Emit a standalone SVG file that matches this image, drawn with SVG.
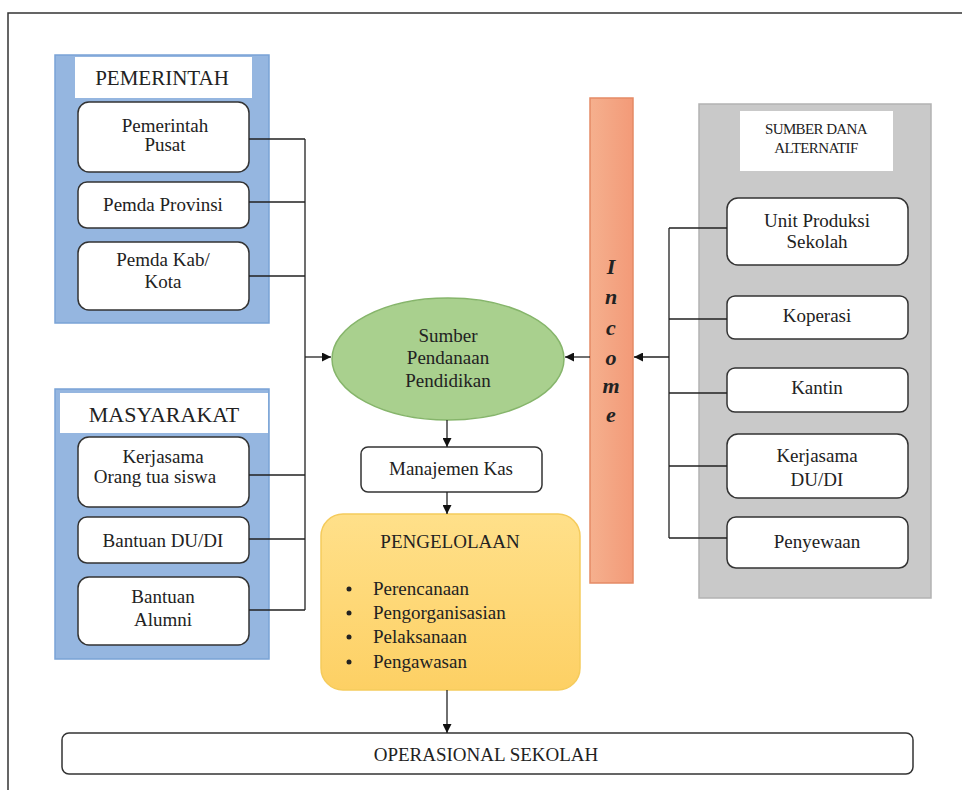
<svg xmlns="http://www.w3.org/2000/svg" width="962" height="790" viewBox="0 0 962 790" font-family="'Liberation Serif', 'DejaVu Serif', serif">
<defs>
<style>
text{font-family:"Liberation Serif","DejaVu Serif",serif;fill:#222;text-anchor:middle}
.t{font-size:19px}
.box{fill:#fff;stroke:#333;stroke-width:1.5}
.ln{fill:none;stroke:#222;stroke-width:1.3}
.ttl{fill:#fff;stroke:none}
</style>
<marker id="ah" viewBox="0 0 10 10" refX="10" refY="5" markerWidth="9" markerHeight="9" markerUnits="userSpaceOnUse" orient="auto">
<path d="M0,0 L10,5 L0,10 z" fill="#111"/>
</marker>
<linearGradient id="gy" x1="0" y1="0" x2="0" y2="1">
<stop offset="0" stop-color="#ffe08a"/><stop offset="1" stop-color="#fdd064"/>
</linearGradient>
<linearGradient id="go" x1="0" y1="0" x2="1" y2="0">
<stop offset="0" stop-color="#f5b08e"/><stop offset="1" stop-color="#f39a78"/>
</linearGradient>
</defs>
<rect width="962" height="790" fill="#fff"/>
<path d="M8,790 V13 H962" fill="none" stroke="#333" stroke-width="1.5"/>

<g id="pemerintah">
<rect x="55" y="55" width="214" height="268" fill="#95b6e0" stroke="#7aa3d6" stroke-width="1.5"/>
<rect class="ttl" x="75" y="57" width="177" height="41"/>
<text x="162" y="85" style="font-size:21px">PEMERINTAH</text>
</g>
<g id="pemerintah-pusat">
<rect class="box" x="78" y="102" width="171" height="70" rx="11"/>
<text class="t" x="165" y="132">Pemerintah</text><text class="t" x="165" y="151">Pusat</text>
</g>
<g id="pemda-provinsi">
<rect class="box" x="78" y="182" width="171" height="46" rx="9"/>
<text class="t" x="163" y="211">Pemda Provinsi</text>
</g>
<g id="pemda-kab">
<rect class="box" x="78" y="242" width="171" height="68" rx="11"/>
<text class="t" x="163" y="266">Pemda Kab/</text><text class="t" x="163" y="288">Kota</text>
</g>

<g id="masyarakat">
<rect x="55" y="389" width="214" height="270" fill="#95b6e0" stroke="#7aa3d6" stroke-width="1.5"/>
<rect class="ttl" x="60" y="393" width="208" height="40"/>
<text x="164" y="422" style="font-size:22px">MASYARAKAT</text>
</g>
<g id="kerjasama-ortu">
<rect class="box" x="78" y="437" width="171" height="70" rx="11"/>
<text class="t" x="163" y="463">Kerjasama</text><text class="t" x="155" y="483">Orang tua siswa</text>
</g>
<g id="bantuan-dudi">
<rect class="box" x="78" y="517" width="171" height="46" rx="9"/>
<text class="t" x="163" y="547">Bantuan DU/DI</text>
</g>
<g id="bantuan-alumni">
<rect class="box" x="78" y="577" width="171" height="68" rx="11"/>
<text class="t" x="163" y="603">Bantuan</text><text class="t" x="163" y="626">Alumni</text>
</g>

<g id="sumber-pendanaan">
<ellipse cx="448" cy="359" rx="116" ry="61" fill="#a9d08e" stroke="#86b56b" stroke-width="1.5"/>
<text class="t" x="448" y="342">Sumber</text>
<text class="t" x="448" y="364">Pendanaan</text>
<text class="t" x="448" y="387">Pendidikan</text>
</g>
<g id="manajemen-kas">
<rect class="box" x="361" y="447" width="181" height="45" rx="7"/>
<text class="t" x="451" y="475">Manajemen Kas</text>
</g>
<g id="pengelolaan">
<rect x="321" y="514" width="259" height="176" rx="22" fill="url(#gy)" stroke="#f5cb5c" stroke-width="1.5"/>
<text x="450" y="548" style="font-size:19px">PENGELOLAAN</text>
<g style="font-size:19px">
<circle cx="349" cy="589" r="2.5" fill="#222"/><text x="373" y="595" style="text-anchor:start">Perencanaan</text>
<circle cx="349" cy="613" r="2.5" fill="#222"/><text x="373" y="619" style="text-anchor:start">Pengorganisasian</text>
<circle cx="349" cy="637" r="2.5" fill="#222"/><text x="373" y="643" style="text-anchor:start">Pelaksanaan</text>
<circle cx="349" cy="662" r="2.5" fill="#222"/><text x="373" y="668" style="text-anchor:start">Pengawasan</text>
</g>
</g>
<g id="operasional">
<rect class="box" x="62" y="733" width="851" height="41" rx="7"/>
<text class="t" x="486" y="761">OPERASIONAL SEKOLAH</text>
</g>

<g id="income">
<rect x="590" y="98" width="43" height="485" fill="url(#go)" stroke="#e58a66" stroke-width="1.5"/>
<g style="font-size:22px;font-weight:bold;font-style:italic">
<text x="611" y="274">I</text>
<text x="611" y="304">n</text>
<text x="611" y="335">c</text>
<text x="611" y="365">o</text>
<text x="611" y="393">m</text>
<text x="611" y="422">e</text>
</g>
</g>

<g id="sumber-dana-alternatif">
<rect x="699" y="104" width="232" height="494" fill="#c9c9c9" stroke="#b2b2b2" stroke-width="1.5"/>
<rect class="ttl" x="740" y="111" width="153" height="60"/>
<text x="816" y="134" style="font-size:15px;letter-spacing:-0.6px">SUMBER DANA</text>
<text x="816" y="153" style="font-size:15px;letter-spacing:-0.6px">ALTERNATIF</text>
</g>
<g id="unit-produksi">
<rect class="box" x="727" y="198" width="181" height="67" rx="11"/>
<text class="t" x="817" y="227">Unit Produksi</text><text class="t" x="817" y="248">Sekolah</text>
</g>
<g id="koperasi">
<rect class="box" x="727" y="296" width="181" height="43" rx="8"/>
<text class="t" x="817" y="322">Koperasi</text>
</g>
<g id="kantin">
<rect class="box" x="727" y="368" width="181" height="44" rx="8"/>
<text class="t" x="817" y="394">Kantin</text>
</g>
<g id="kerjasama-dudi">
<rect class="box" x="727" y="434" width="181" height="64" rx="11"/>
<text class="t" x="817" y="462">Kerjasama</text><text class="t" x="817" y="486">DU/DI</text>
</g>
<g id="penyewaan">
<rect class="box" x="727" y="517" width="181" height="51" rx="9"/>
<text class="t" x="817" y="548">Penyewaan</text>
</g>

<g id="connectors">
<path class="ln" d="M249,139 H305 M249,202 H305 M249,276 H305 M249,475 H305 M249,539 H305 M249,610 H305 M305,139 V610"/>
<path class="ln" d="M305,357 H331" marker-end="url(#ah)"/>
<path class="ln" d="M727,228 H669 M727,319 H669 M727,393 H669 M727,466 H669 M727,538 H669 M669,228 V538"/>
<path class="ln" d="M669,357 H634" marker-end="url(#ah)"/>
<path class="ln" d="M590,357 H565" marker-end="url(#ah)"/>
<path class="ln" d="M447,420 V447" marker-end="url(#ah)"/>
<path class="ln" d="M447,492 V514" marker-end="url(#ah)"/>
<path class="ln" d="M447,690 V733" marker-end="url(#ah)"/>
</g>
</svg>
